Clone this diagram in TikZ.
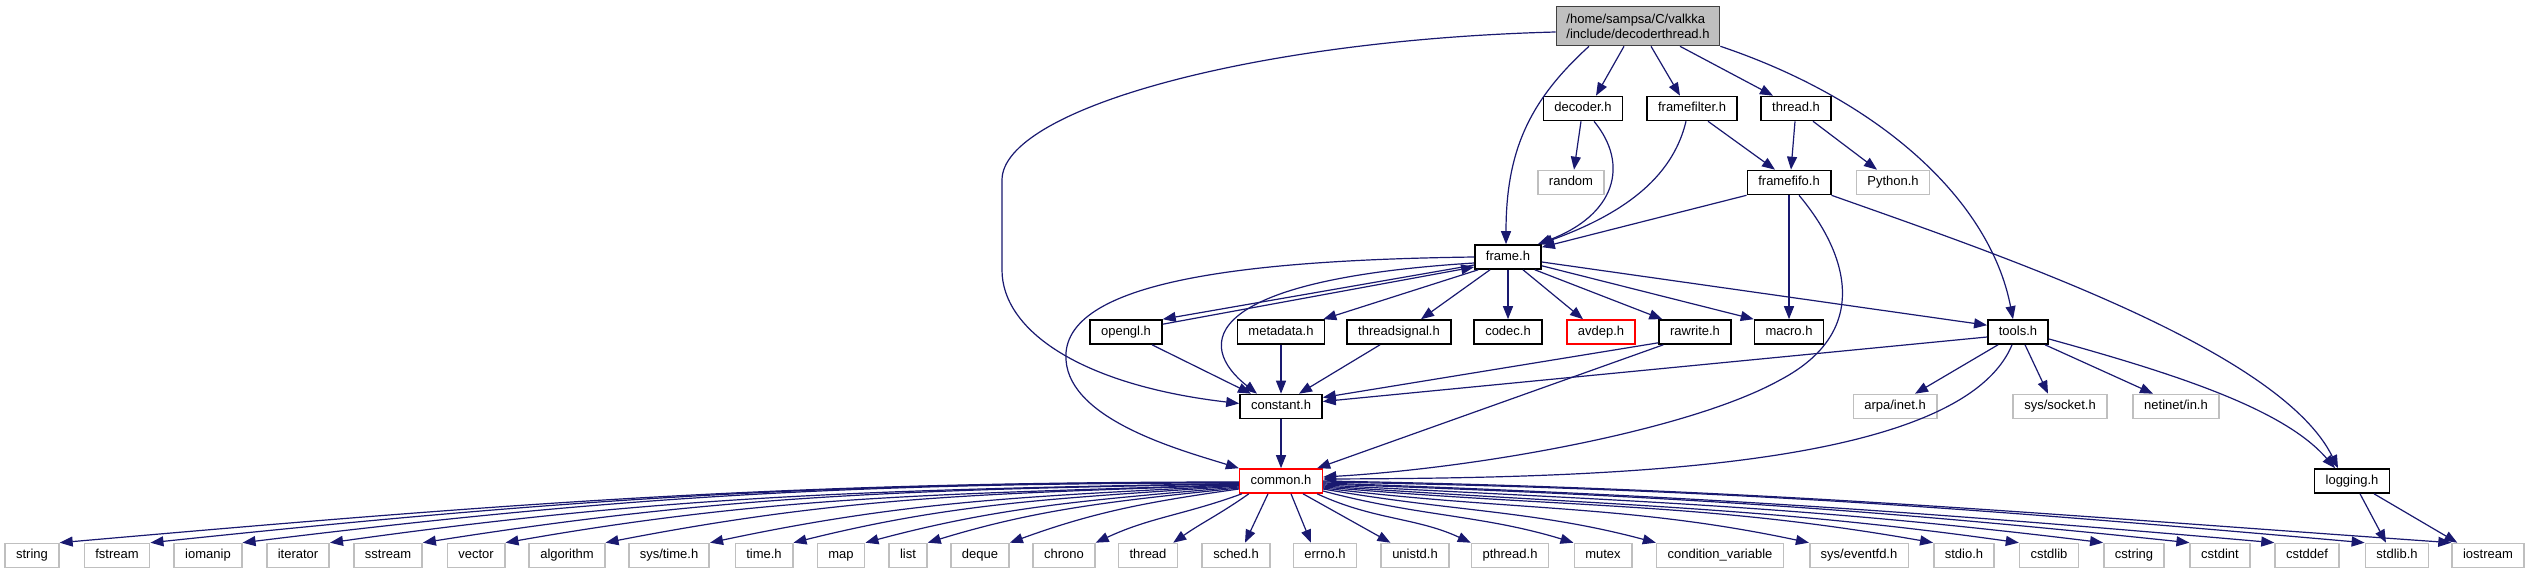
\documentclass[tikz,border=0pt]{standalone}
\usepackage{fontspec}
\newfontfamily\ndfamily{Liberation Sans}
\usetikzlibrary{arrows.meta}
\definecolor{edgec}{HTML}{191970}
\definecolor{extc}{HTML}{BFBFBF}
\definecolor{rootfill}{HTML}{BFBFBF}
\definecolor{rootdraw}{HTML}{404040}
\definecolor{trc}{HTML}{FF0000}
\newcommand\ndfont{\ndfamily\fontsize{13}{15}\selectfont}
\begin{document}
\begin{tikzpicture}[x=1pt,y=1pt,
  nd/.style={draw=black, line width=1.6pt, fill=white, inner xsep=11pt, inner ysep=0pt,
    minimum height=24pt, text height=9.5pt, text depth=2.8pt, font=\ndfont},
  ext/.style={nd, draw=extc},
  trunc/.style={nd, draw=trc},
  rootnd/.style={draw=rootdraw, fill=rootfill, line width=1.6pt, inner xsep=10pt, inner ysep=3pt,
    align=left, font=\ndfont, minimum height=39pt},
  dep/.style={draw=edgec, line width=1.2pt, -{Triangle[length=13pt,width=10pt]}}]
\fill[white] (0,0) rectangle (2531,-575);
\useasboundingbox (0,0) rectangle (2531,-575);

% ---- nodes ----
\node[rootnd] (root) at (1638,-26) {/home/sampsa/C/valkka\\/include/decoderthread.h};
\node[nd] (decoder) at (1583,-108.5) {decoder.h};
\node[nd] (ffilter) at (1692,-108.5) {framefilter.h};
\node[nd] (thr) at (1796,-108.5) {thread.h};
\node[ext] (random) at (1571,-182.5) {random};
\node[nd] (ffifo) at (1789,-182.5) {framefifo.h};
\node[ext] (python) at (1893,-182.5) {Python.h};
\node[nd] (frame) at (1508,-257) {frame.h};
\node[nd] (opengl) at (1126,-332) {opengl.h};
\node[nd] (metadata) at (1281,-332) {metadata.h};
\node[nd] (tsignal) at (1399,-332) {threadsignal.h};
\node[nd] (codec) at (1508,-332) {codec.h};
\node[trunc] (avdep) at (1601,-332) {avdep.h};
\node[nd] (rawrite) at (1695,-332) {rawrite.h};
\node[nd] (macro) at (1789,-332) {macro.h};
\node[nd] (tools) at (2018,-332) {tools.h};
\node[nd] (constant) at (1281,-406.5) {constant.h};
\node[ext] (arpa) at (1895,-406.5) {arpa/inet.h};
\node[ext] (socket) at (2060,-406.5) {sys/socket.h};
\node[ext] (netinet) at (2176,-406.5) {netinet/in.h};
\node[trunc] (common) at (1281,-481) {common.h};
\node[nd] (logging) at (2352,-481) {logging.h};

\node[ext] (nstring) at (32,-555.5) {string};
\node[ext] (nfstream) at (117,-555.5) {fstream};
\node[ext] (niomanip) at (208,-555.5) {iomanip};
\node[ext] (niterator) at (298,-555.5) {iterator};
\node[ext] (nsstream) at (388,-555.5) {sstream};
\node[ext] (nvector) at (476,-555.5) {vector};
\node[ext] (nalgorithm) at (567,-555.5) {algorithm};
\node[ext] (nsystime) at (669,-555.5) {sys/time.h};
\node[ext] (ntime) at (764,-555.5) {time.h};
\node[ext] (nmap) at (841,-555.5) {map};
\node[ext] (nlist) at (908,-555.5) {list};
\node[ext] (ndeque) at (980,-555.5) {deque};
\node[ext] (nchrono) at (1064,-555.5) {chrono};
\node[ext] (nthread) at (1148,-555.5) {thread};
\node[ext] (nsched) at (1236,-555.5) {sched.h};
\node[ext] (nerrno) at (1325,-555.5) {errno.h};
\node[ext] (nunistd) at (1415,-555.5) {unistd.h};
\node[ext] (npthread) at (1510,-555.5) {pthread.h};
\node[ext] (nmutex) at (1603,-555.5) {mutex};
\node[ext] (ncondvar) at (1720,-555.5) {condition\_variable};
\node[ext] (neventfd) at (1859,-555.5) {sys/eventfd.h};
\node[ext] (nstdio) at (1964,-555.5) {stdio.h};
\node[ext] (ncstdlib) at (2049,-555.5) {cstdlib};
\node[ext] (ncstring) at (2134,-555.5) {cstring};
\node[ext] (ncstdint) at (2220,-555.5) {cstdint};
\node[ext] (ncstddef) at (2307,-555.5) {cstddef};
\node[ext] (nstdlib) at (2397,-555.5) {stdlib.h};
\node[ext] (niostream) at (2488,-555.5) {iostream};

% ---- root edges ----
\draw[dep] ([yshift=-6]root.west) .. controls (1250,-40) and (1002,-110) .. (1002,-180)
  -- (1002,-270) .. controls (1002,-330) and (1080,-385) .. ([yshift=3]constant.west);
\draw[dep] ([xshift=-49]root.south) .. controls (1530,-100) and (1506,-150) .. ([xshift=-2]frame.north);
\draw[dep] ([xshift=-14]root.south) -- ([xshift=13]decoder.north);
\draw[dep] ([xshift=13]root.south) -- ([xshift=-12]ffilter.north);
\draw[dep] ([xshift=42]root.south) -- ([xshift=-23]thr.north);
\draw[dep] (root.south east) .. controls (1880,-100) and (1990,-200) .. ([xshift=-5]tools.north);

% ---- second level ----
\draw[dep] ([xshift=-2]decoder.south) -- ([xshift=3]random.north);
\draw[dep] ([xshift=11]decoder.south) .. controls (1630,-165) and (1615,-215) .. ([xshift=-4]frame.north east);
\draw[dep] ([xshift=-6]ffilter.south) .. controls (1672,-180) and (1620,-215) .. ([xshift=-2]frame.north east);
\draw[dep] ([xshift=16]ffilter.south) -- ([xshift=-14]ffifo.north);
\draw[dep] ([xshift=-1]thr.south) -- ([xshift=2]ffifo.north);
\draw[dep] ([xshift=17]thr.south) -- ([xshift=-16]python.north);

% ---- framefifo ----
\draw[dep] (ffifo.south west) -- ([yshift=-3]frame.north east);
\draw[dep] (ffifo.south) -- (macro.north);
\draw[dep] ([xshift=10]ffifo.south) .. controls (1845,-250) and (1875,-330) .. (1780,-380)
  .. controls (1690,-430) and (1480,-468) .. ([yshift=4]common.east);
\draw[dep] (ffifo.south east) .. controls (2000,-255) and (2280,-350) .. ([xshift=-14]logging.north);

% ---- frame ----
\draw[dep] (frame.west) .. controls (1250,-260) and (1060,-280) .. (1066,-360)
  .. controls (1070,-420) and (1180,-450) .. (common.north west);
\draw[dep] ([yshift=-6]frame.west) .. controls (1200,-280) and (1195,-345) .. ([xshift=-24]constant.north);
\draw[dep] ([yshift=-8]frame.west) -- (opengl.north east);
\draw[dep] ([yshift=-5]opengl.north east) -- ([yshift=-10]frame.west);
\draw[dep] ([xshift=4]frame.south west) -- ([xshift=-2]metadata.north east);
\draw[dep] ([xshift=-18]frame.south) -- ([xshift=22]tsignal.north);
\draw[dep] (frame.south) -- (codec.north);
\draw[dep] ([xshift=15]frame.south) -- ([xshift=-18]avdep.north);
\draw[dep] ([xshift=-7]frame.south east) -- ([xshift=4]rawrite.north west);
\draw[dep] ([yshift=4]frame.south east) -- (macro.north west);
\draw[dep] ([yshift=-5]frame.east) -- ([yshift=-6]tools.north west);

% ---- third level ----
\draw[dep] ([xshift=26]opengl.south) -- ([xshift=-30]constant.north);
\draw[dep] (metadata.south) -- (constant.north);
\draw[dep] ([xshift=-19]tsignal.south) -- ([xshift=18]constant.north);
\draw[dep] ([yshift=2]rawrite.south west) -- ([yshift=9]constant.east);
\draw[dep] ([yshift=-5]tools.west) -- ([yshift=5]constant.east);
\draw[dep] ([xshift=5]rawrite.south west) -- ([xshift=-6]common.north east);
\draw[dep] (constant.south) -- (common.north);
\draw[dep] ([xshift=-20]tools.south) -- ([xshift=20]arpa.north);
\draw[dep] ([xshift=7]tools.south) -- ([xshift=-12]socket.north);
\draw[dep] ([xshift=27]tools.south) -- ([xshift=-23]netinet.north);
\draw[dep] ([yshift=-7]tools.east) .. controls (2180,-375) and (2285,-410) .. ([xshift=-17]logging.north);
\draw[dep] ([xshift=-6]tools.south) .. controls (1960,-470) and (1600,-478) .. ([yshift=2]common.east);
\draw[dep] ([xshift=8]logging.south) -- ([xshift=-11]nstdlib.north);
\draw[dep] ([xshift=22]logging.south) -- ([xshift=6]niostream.north west);

% ---- common fan, left ----
\draw[dep] ([yshift=-1]common.west) .. controls +(180:460) and +(5:450) .. (nstring.north east);
\draw[dep] ([yshift=-1.5]common.west) .. controls +(180:425) and +(6:415) .. (nfstream.north east);
\draw[dep] ([yshift=-2]common.west) .. controls +(180:390) and +(7:380) .. (niomanip.north east);
\draw[dep] ([yshift=-2.5]common.west) .. controls +(181:355) and +(8:345) .. (niterator.north east);
\draw[dep] ([yshift=-3]common.west) .. controls +(181:320) and +(9:310) .. (nsstream.north east);
\draw[dep] ([yshift=-3.5]common.west) .. controls +(182:285) and +(10:280) .. (nvector.north east);
\draw[dep] ([yshift=-4]common.west) .. controls +(182:250) and +(11:245) .. (nalgorithm.north east);
\draw[dep] ([yshift=-4.5]common.west) .. controls +(183:210) and +(12:205) .. (nsystime.north east);
\draw[dep] ([yshift=-5]common.west) .. controls +(184:175) and +(14:170) .. (ntime.north east);
\draw[dep] ([yshift=-6]common.west) .. controls +(185:147) and +(15:142) .. (nmap.north east);
\draw[dep] ([yshift=-7]common.west) .. controls +(186:123) and +(17:118) .. (nlist.north east);
\draw[dep] ([yshift=-8]common.west) .. controls +(188:93) and +(20:90) .. (ndeque.north east);
\draw[dep] ([xshift=3]common.south west) .. controls +(200:62) and +(25:60) .. (nchrono.north east);
\draw[dep] ([xshift=10]common.south west) .. controls +(215:37) and +(35:35) .. ([xshift=-5]nthread.north east);
\draw[dep] ([xshift=-13]common.south) -- ([xshift=9]nsched.north);
% ---- common fan, right ----
\draw[dep] ([xshift=10]common.south) -- ([xshift=-14]nerrno.north);
\draw[dep] ([xshift=22]common.south) -- ([xshift=10]nunistd.north west);
\draw[dep] ([xshift=-6]common.south east) .. controls +(-25:62) and +(155:60) .. (npthread.north west);
\draw[dep] ([yshift=-10]common.east) .. controls +(-15:98) and +(163:95) .. (nmutex.north west);
\draw[dep] ([yshift=-8]common.east) .. controls +(-10:130) and +(165:125) .. (ncondvar.north west);
\draw[dep] ([yshift=-7]common.east) .. controls +(-7:190) and +(168:185) .. (neventfd.north west);
\draw[dep] ([yshift=-6]common.east) .. controls +(-5:240) and +(170:235) .. (nstdio.north west);
\draw[dep] ([yshift=-5]common.east) .. controls +(-4:272) and +(172:265) .. (ncstdlib.north west);
\draw[dep] ([yshift=-4]common.east) .. controls +(-3:305) and +(173:300) .. (ncstring.north west);
\draw[dep] ([yshift=-3]common.east) .. controls +(-2:340) and +(174:330) .. (ncstdint.north west);
\draw[dep] ([yshift=-2]common.east) .. controls +(-2:372) and +(175:365) .. (ncstddef.north west);
\draw[dep] ([yshift=-1]common.east) .. controls +(-1:407) and +(175:400) .. (nstdlib.north west);
\draw[dep] (common.east) .. controls +(-1:440) and +(176:430) .. (niostream.north west);
\end{tikzpicture}
\end{document}
